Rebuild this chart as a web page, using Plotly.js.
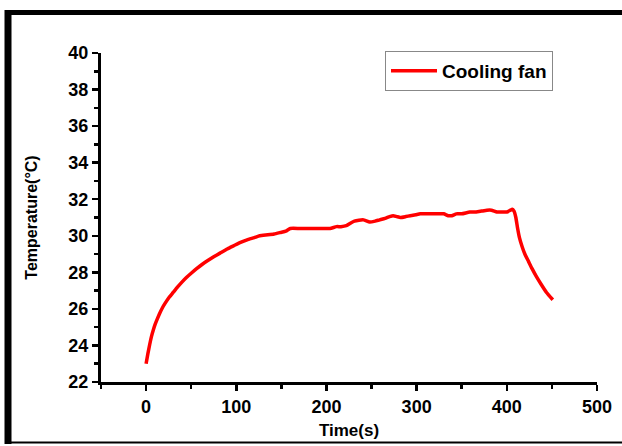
<!DOCTYPE html>
<html>
<head>
<meta charset="utf-8">
<script src="https://cdn.plot.ly/plotly-3.0.1.min.js"></script>
<style>
html,body{margin:0;padding:0;background:#fff;}
#chart{width:622px;height:446px;}
</style>
</head>
<body>
<div id="chart"></div>
<script>
// Time (s)
const timeS = [0,2,4,6,8,10,12,15,18,21,25,30,35,40,45,50,56,62,68,75,82,90,97,104,112,120,126,135,142,149,155,160,170,180,190,204,211,216,222,227,231,236,241,248,254,259,265,270,274,278,282,288,293,299,304,312,320,330,335,339,344,350,359,366,372,378,383,389,395,400,404,406,408,410,412,414,417,420,424,428,433,438,444,451];
// Temperature (°C) - Cooling fan
const tempC = [23.0,23.55,24.05,24.5,24.85,25.15,25.4,25.75,26.05,26.3,26.6,26.9,27.2,27.48,27.73,27.95,28.2,28.43,28.63,28.85,29.05,29.28,29.45,29.62,29.78,29.9,30.0,30.05,30.1,30.18,30.25,30.4,30.4,30.4,30.4,30.4,30.5,30.5,30.55,30.7,30.8,30.85,30.87,30.75,30.8,30.87,30.95,31.05,31.1,31.05,31.0,31.05,31.1,31.15,31.2,31.2,31.2,31.2,31.1,31.1,31.2,31.2,31.3,31.3,31.35,31.4,31.4,31.3,31.3,31.3,31.4,31.45,31.35,31.0,30.4,29.9,29.4,29.0,28.6,28.2,27.75,27.35,26.9,26.5];
const seriesName = 'Cooling fan';
const xTicks = [0,100,200,300,400,500];
const xTickText = ['0','100','200','300','400','500'];
const yTicks = [22,24,26,28,30,32,34,36,38,40];
const yTickText = ['22','24','26','28','30','32','34','36','38','40'];
const xTitle = 'Time(s)';
const yTitle = 'Temperature(°C)';

const W = 622, H = 446;
const mL = 101, mR = 25, mT = 53, mB = 64;
const pw = W - mL - mR, ph = H - mT - mB;
const px = v => (v - mL) / pw;          // pixel -> paper x
const py = v => (H - mB - v) / ph;      // pixel -> paper y
const b = s => '<b>' + s + '</b>';

const font = {family: 'Liberation Sans, Arial, sans-serif', color: '#000'};

const trace = {
  x: timeS, y: tempC, type: 'scatter', mode: 'lines', name: b(seriesName),
  line: {color: '#ff0000', width: 3.5, shape: 'spline', smoothing: 0.4}
};

const layout = {
  width: W, height: H,
  margin: {l: mL, r: mR, t: mT, b: mB},
  paper_bgcolor: '#fff', plot_bgcolor: '#fff',
  showlegend: true,
  legend: {
    x: px(385), y: py(51), xanchor: 'left', yanchor: 'top',
    bgcolor: '#fff', bordercolor: '#888', borderwidth: 1,
    font: Object.assign({}, font, {size: 19}),
    itemwidth: 46, tracegroupgap: 0
  },
  xaxis: {
    range: [-50, 500], tickmode: 'array', tickvals: xTicks, ticktext: xTickText.map(b),
    showgrid: false, zeroline: false,
    showline: true, linecolor: '#000', linewidth: 3,
    ticks: 'outside', ticklen: 6, tickwidth: 2.5, tickcolor: '#000',
    minor: {dtick: 50, tick0: 0, ticks: 'outside', ticklen: 4, tickwidth: 2.5, tickcolor: '#000', showgrid: false},
    tickfont: Object.assign({}, font, {size: 18}),
    title: {text: b(xTitle), font: Object.assign({}, font, {size: 17}), standoff: 9}
  },
  yaxis: {
    range: [22, 40], tickmode: 'array', tickvals: yTicks, ticktext: yTickText.map(b),
    showgrid: false, zeroline: false,
    showline: true, linecolor: '#000', linewidth: 3,
    ticks: 'outside', ticklen: 6, tickwidth: 2.5, tickcolor: '#000',
    minor: {dtick: 1, tick0: 22, ticks: 'outside', ticklen: 4, tickwidth: 2.5, tickcolor: '#000', showgrid: false},
    tickfont: Object.assign({}, font, {size: 18}),
    title: {text: b(yTitle), font: Object.assign({}, font, {size: 16}), standoff: 27}
  },
  shapes: [
    {type: 'line', xref: 'paper', yref: 'paper', x0: px(8), x1: px(8), y0: py(10), y1: py(444), line: {color: '#000', width: 7}},
    {type: 'line', xref: 'paper', yref: 'paper', x0: px(5), x1: px(622), y0: py(12.5), y1: py(12.5), line: {color: '#000', width: 5}},
    {type: 'line', xref: 'paper', yref: 'paper', x0: px(5), x1: px(622), y0: py(442.5), y1: py(442.5), line: {color: '#000', width: 2}}
  ]
};

Plotly.newPlot('chart', [trace], layout, {displayModeBar: false, staticPlot: true});
</script>
</body>
</html>
